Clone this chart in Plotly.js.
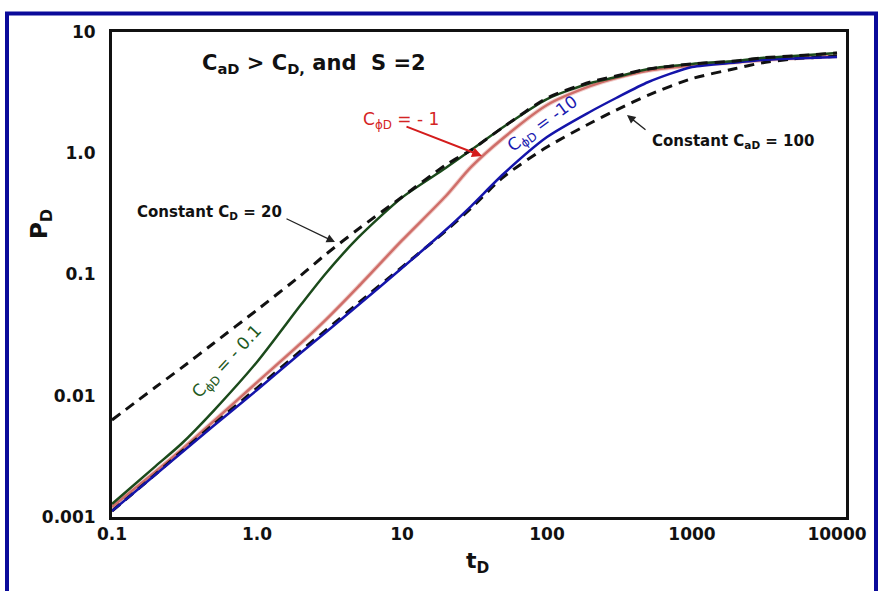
<!DOCTYPE html>
<html>
<head>
<meta charset="utf-8">
<script src="https://cdn.plot.ly/plotly-3.0.1.min.js"></script>
<style>
html,body{margin:0;padding:0;background:#fff;}
#chart{width:878px;height:591px;}
</style>
</head>
<body>
<div id="chart"></div>
<script>
// Dimensionless time
const tD = [0.1,0.2,0.3,0.5,1,2,3,5,10,20,30,50,100,200,300,500,1000,2000,3000,5000,10000];
// C_phiD = -0.1
const pGreen = [0.00128,0.00263,0.0040,0.00748,0.0190,0.0560,0.103,0.202,0.431,0.755,1.064,1.646,2.80,3.80,4.25,4.95,5.45,5.77,6.11,6.34,6.71];
// C_phiD = -1
const pRed = [0.00121,0.00237,0.00357,0.00613,0.0129,0.0270,0.0427,0.0796,0.191,0.442,0.771,1.336,2.50,3.59,4.17,4.80,5.30,5.62,5.86,6.08,6.34];
// C_phiD = -10
const pBlue = [0.00112,0.00224,0.00337,0.00563,0.01115,0.02253,0.0336,0.0560,0.113,0.233,0.367,0.674,1.36,2.21,2.856,3.87,5.14,5.60,5.88,6.04,6.22];
// Constant C_aD = 100
const pCaD100 = [0.00112,0.00226,0.00344,0.00579,0.01158,0.0234,0.0349,0.0582,0.115,0.228,0.353,0.637,1.126,1.776,2.27,3.02,4.13,5.00,5.55,6.00,6.30];
// Constant C_D = 20
const pCD20 = [0.00631,0.0118,0.0169,0.0270,0.0510,0.0981,0.1476,0.237,0.436,0.800,1.064,1.646,2.856,3.87,4.34,4.95,5.45,5.77,6.11,6.34,6.71];

const xTickVals = [0.1,1,10,100,1000,10000];
const xTickText = ['0.1','1.0','10','100','1000','10000'];
const yTickVals = [0.001,0.01,0.1,1,10];
const yTickText = ['0.001','0.01','0.1','1.0','10'];

const FONT = 'DejaVu Sans, Verdana, sans-serif';

function line(y, color, width, dash){
  return {x: tD, y: y, type:'scatter', mode:'lines', hoverinfo:'skip',
    line:{color:color, width:width, dash: dash || 'solid', shape:'spline', smoothing:0.7}};
}

const traces = [
  line(pRed, '#f1d0cd', 4.5),
  line(pRed, '#cf6e69', 2.5),
  line(pCaD100, '#111111', 3, '10px,7px'),
  line(pBlue, '#1414aa', 2.5),
  line(pGreen, '#1b4a1b', 2.5),
  line(pCD20, '#111111', 3, '10px,7px')
];

// pixel -> paper helpers for annotation placement
const L=112, R=846, T=32, B=517;
const px = v => (v-L)/(R-L);
const py = v => (B-v)/(B-T);

const annotations = [
  {text:'C<sub>aD</sub> &gt; C<sub>D,</sub> and&nbsp; S =2', x:px(314), y:py(64),
   font:{family:FONT, size:21, color:'#111', weight:'bold'}},
  {text:'C<sub>ϕD</sub> = - 1', x:px(401), y:py(120),
   font:{family:FONT, size:17, color:'#d42424'}},
  {text:'C<sub>ϕD</sub> = -10', x:px(543), y:py(124), textangle:-36,
   font:{family:FONT, size:17, color:'#1a1ab0'}},
  {text:'C<sub>ϕD</sub> = - 0.1', x:px(227), y:py(362), textangle:-47,
   font:{family:FONT, size:17, color:'#1e5a1e'}},
  {text:'Constant C<sub>D</sub> = 20', x:px(209), y:py(212),
   font:{family:FONT, size:15, color:'#111', weight:'bold'}},
  {text:'Constant C<sub>aD</sub> = 100', x:px(733), y:py(141),
   font:{family:FONT, size:15, color:'#111', weight:'bold'}},
  {text:'t<sub>D</sub>', x:px(477), y:py(562),
   font:{family:FONT, size:22, color:'#111', weight:'bold'}},
  {text:'P<sub>D</sub>', x:px(41), y:py(224), textangle:-90,
   font:{family:FONT, size:23, color:'#111', weight:'bold'}},
  // arrows
  {text:'', x:px(482), y:py(156), showarrow:true, ax:-77, ay:-30,
   arrowcolor:'#d41c1c', arrowwidth:2, arrowhead:2, arrowsize:1, font:{size:1}},
  {text:'', x:px(335), y:py(242), showarrow:true, ax:-50, ay:-24,
   arrowcolor:'#222', arrowwidth:1.3, arrowhead:2, arrowsize:1.3, font:{size:1}},
  {text:'', x:px(627), y:py(115), showarrow:true, ax:20, ay:16,
   arrowcolor:'#222', arrowwidth:1.3, arrowhead:2, arrowsize:1.3, font:{size:1}}
].map(a => Object.assign({xref:'paper', yref:'paper', showarrow:false, xanchor:'center', yanchor:'middle'}, a));

const layout = {
  width:878, height:591,
  margin:{l:L, r:878-R, t:T, b:591-B, pad:0},
  paper_bgcolor:'#ffffff', plot_bgcolor:'#ffffff',
  showlegend:false,
  xaxis:{type:'log', range:[-1, 4.062], tickvals:xTickVals, ticktext:xTickText,
    showgrid:false, zeroline:false, showline:true, linecolor:'#111', linewidth:3, mirror:true,
    ticks:'', ticklabelstandoff:0,
    tickfont:{family:FONT, size:17, color:'#111', weight:'bold'}},
  yaxis:{type:'log', range:[-3, 1], tickvals:yTickVals, ticktext:yTickText,
    showgrid:false, zeroline:false, showline:true, linecolor:'#111', linewidth:3, mirror:true,
    ticks:'', ticklabelstandoff:10,
    tickfont:{family:FONT, size:17, color:'#111', weight:'bold'}},
  annotations: annotations,
  shapes:[
    {type:'rect', xref:'paper', yref:'paper', x0:px(7), x1:px(876), y0:py(13.5), y1:py(600),
     line:{color:'#0a0a9a', width:4}, fillcolor:'rgba(0,0,0,0)', layer:'below'}
  ]
};

Plotly.newPlot('chart', traces, layout, {staticPlot:true, displayModeBar:false});
</script>
</body>
</html>
